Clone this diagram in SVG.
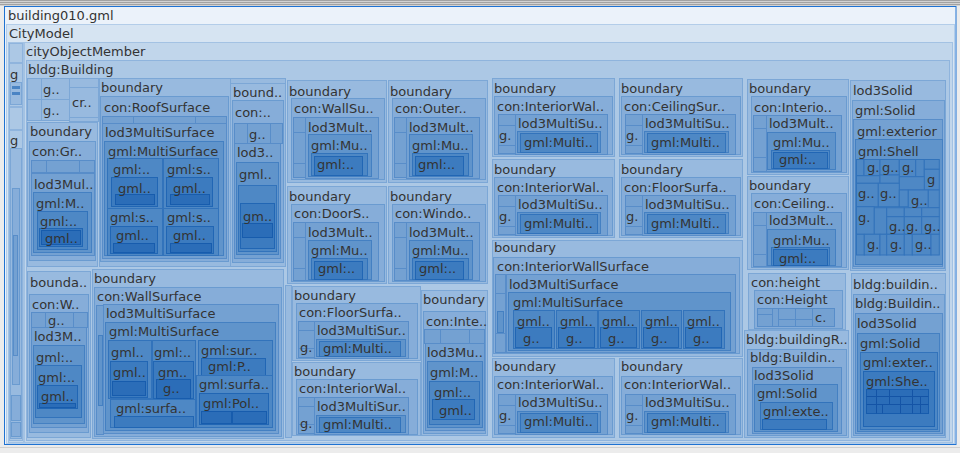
<svg xmlns="http://www.w3.org/2000/svg" width="960" height="453" viewBox="0 0 960 453">
<style>
rect{stroke-width:1}
.d0{fill:#ebf2fa}
.d1{fill:#d6e4f2;stroke:#b3cde9}
.d2{fill:#c1d6eb;stroke:#a3c2e3}
.d3{fill:#acc8e5;stroke:#8fb4dd}
.d4{fill:#98badf;stroke:#7ca7d6}
.d5{fill:#86add9;stroke:#6a9bd0}
.d6{fill:#74a1d2;stroke:#588dc9}
.d7{fill:#6094cb;stroke:#4480c2}
.d8{fill:#4e88c5;stroke:#3273bb}
.d9{fill:#3c7bbf;stroke:#2166b4}
.d10{fill:#2b6db8;stroke:#175cad}
.d11{fill:#1f62b0;stroke:#1454a6}
text{font-family:"DejaVu Sans","Liberation Sans",sans-serif;font-size:13px;fill:#333}
</style>
<rect x="0" y="0" width="960" height="453" fill="#ececec"/>
<rect x="0" y="0" width="960" height="6" fill="#d2d2d2"/>
<g stroke="#a2a2a2"><line x1="0" y1="0.5" x2="960" y2="0.5"/><line x1="0" y1="2.5" x2="960" y2="2.5"/><line x1="0" y1="4.5" x2="960" y2="4.5"/></g>
<line x1="0" y1="447.5" x2="960" y2="447.5" stroke="#d0d0d0"/>
<g id="building010">
<rect x="4.5" y="6.5" width="951.5" height="438" class="d0" stroke="#1f72d2" stroke-width="1.5"/>
<text x="8" y="20">building010.gml</text>
</g>
<g id="citymodel">
<rect class="d1" x="6.5" y="24.5" width="948" height="419"/>
<text x="9" y="38">CityModel</text>
</g>
<g id="leftcol">
<rect class="d2" x="8.5" y="42.5" width="15" height="400"/>
<rect class="d3" x="9.5" y="43.5" width="13" height="19"/>
<rect class="d3" x="9.5" y="63.5" width="13" height="43"/>
<rect class="d4" x="10.5" y="82.5" width="11" height="22"/>
<rect x="12" y="86" width="8" height="3" fill="#4a84c4"/>
<rect x="12" y="92" width="8" height="3" fill="#4a84c4"/>
<rect class="d3" x="9.5" y="107.5" width="13" height="22"/>
<rect class="d3" x="9.5" y="130.5" width="13" height="310"/>
<rect class="d4" x="10.5" y="148.5" width="11" height="290"/>
<rect class="d5" x="12.5" y="188.5" width="7" height="196"/>
<rect class="d6" x="13.5" y="235.5" width="4" height="120"/>
<rect class="d5" x="11.5" y="395.5" width="9" height="25"/>
<rect class="d5" x="11.5" y="422.5" width="9" height="14"/>
<text x="10" y="79">g</text>
<text x="10" y="145">g</text>
</g>
<g id="cityObjectMember">
<rect class="d2" x="24.5" y="42.5" width="928" height="400"/>
<text x="26" y="56">cityObjectMember</text>
</g>
<g id="bldgBuilding">
<rect class="d3" x="26.5" y="60.5" width="923" height="380"/>
<text x="28" y="74">bldg:Building</text>
</g>
<g id="attrs">
<rect class="d4" x="27.5" y="78.5" width="14" height="21"/>
<rect class="d4" x="41.5" y="78.5" width="28" height="21"/>
<rect class="d4" x="27.5" y="99.5" width="14" height="21"/>
<rect class="d4" x="41.5" y="99.5" width="28" height="21"/>
<rect class="d4" x="69.5" y="78.5" width="29" height="9"/>
<rect class="d4" x="69.5" y="87.5" width="29" height="30"/>
<rect class="d4" x="69.5" y="117.5" width="29" height="4"/>
<text x="43" y="94">g..</text>
<text x="43" y="115">g..</text>
<text x="72" y="107">cr..</text>
</g>
<g id="b-ground">
<rect class="d4" x="27.5" y="122.5" width="70" height="144"/>
<rect class="d5" x="29.5" y="141.5" width="66" height="119"/>
<rect class="d6" x="31.5" y="160.5" width="15" height="12"/>
<rect class="d6" x="46.5" y="160.5" width="33" height="12"/>
<rect class="d6" x="79.5" y="160.5" width="15" height="12"/>
<rect class="d6" x="31.5" y="173.5" width="63" height="82"/>
<rect class="d7" x="33.5" y="192.5" width="58" height="60"/>
<rect class="d8" x="37.5" y="211.5" width="50" height="38"/>
<rect class="d9" x="39.5" y="228.5" width="43" height="18"/>
<rect class="d10" x="41.5" y="230.5" width="39" height="14"/>
<text x="30" y="136">boundary</text>
<text x="32" y="156">con:Gr..</text>
<text x="34" y="189">lod3Mul..</text>
<text x="36" y="208">gml:M..</text>
<text x="40" y="226">gml:..</text>
<text x="45" y="243">gml..</text>
</g>
<g id="b-wall1">
<rect class="d4" x="27.5" y="271.5" width="63" height="166"/>
<rect class="d5" x="29.5" y="294.5" width="59" height="138"/>
<rect class="d6" x="31.5" y="312.5" width="14" height="15"/>
<rect class="d6" x="45.5" y="312.5" width="28" height="15"/>
<rect class="d6" x="73.5" y="312.5" width="14" height="15"/>
<rect class="d6" x="31.5" y="327.5" width="55" height="100"/>
<rect class="d7" x="33.5" y="345.5" width="51" height="78"/>
<rect class="d8" x="35.5" y="365.5" width="46" height="52"/>
<rect class="d9" x="37.5" y="385.5" width="40" height="23"/>
<rect class="d10" x="39.5" y="403.5" width="36" height="4"/>
<text x="30" y="287">bounda..</text>
<text x="32" y="309">con:W..</text>
<text x="48" y="325">g..</text>
<text x="34" y="341">lod3M..</text>
<text x="36" y="362">gml:..</text>
<text x="38" y="382">gml:..</text>
<text x="41" y="401">gml..</text>
</g>
<g id="b-wall2">
<rect class="d4" x="92.5" y="269.5" width="191" height="169"/>
<rect class="d5" x="94.5" y="287.5" width="187" height="149"/>
<rect class="d6" x="96.5" y="305.5" width="7" height="129"/>
<rect class="d7" x="98.5" y="335.5" width="4" height="70"/>
<rect class="d6" x="103.5" y="304.5" width="175" height="129"/>
<rect class="d7" x="105.5" y="322.5" width="170" height="108"/>
<rect class="d8" x="108.5" y="340.5" width="43" height="58"/>
<rect class="d9" x="110.5" y="361.5" width="37" height="36"/>
<rect class="d10" x="112.5" y="381.5" width="33" height="14"/>
<rect class="d8" x="152.5" y="340.5" width="43" height="59"/>
<rect class="d9" x="153.5" y="361.5" width="40" height="37"/>
<rect class="d10" x="156.5" y="379.5" width="34" height="19"/>
<rect class="d8" x="198.5" y="340.5" width="74" height="35"/>
<rect class="d9" x="201.5" y="358.5" width="64" height="17"/>
<rect class="d8" x="196.5" y="375.5" width="76" height="52"/>
<rect class="d9" x="199.5" y="393.5" width="69" height="31"/>
<rect class="d10" x="201.5" y="411.5" width="30" height="12"/>
<rect class="d10" x="232.5" y="411.5" width="34" height="12"/>
<rect class="d8" x="110.5" y="399.5" width="85" height="28"/>
<rect class="d9" x="114.5" y="416.5" width="79" height="11"/>
<text x="94" y="283">boundary</text>
<text x="97" y="301">con:WallSurface</text>
<text x="106" y="318">lod3MultiSurface</text>
<text x="109" y="336">gml:MultiSurface</text>
<text x="111" y="357">gml..</text>
<text x="113" y="377">gml..</text>
<text x="154" y="357">gml:..</text>
<text x="158" y="377">gm..</text>
<text x="163" y="393">g..</text>
<text x="201" y="355">gml:sur..</text>
<text x="208" y="371">gml:P..</text>
<text x="199" y="389">gml:surfa..</text>
<text x="203" y="408">gml:Pol..</text>
<text x="116" y="413">gml:surfa..</text>
</g>
<g id="b-roof">
<rect class="d4" x="99.5" y="78.5" width="131" height="188"/>
<rect class="d5" x="100.5" y="96.5" width="128" height="165"/>
<rect class="d6" x="102.5" y="116.5" width="31" height="7"/>
<rect class="d6" x="133.5" y="116.5" width="62" height="7"/>
<rect class="d6" x="195.5" y="116.5" width="31" height="7"/>
<rect class="d6" x="102.5" y="123.5" width="124" height="135"/>
<rect class="d7" x="104.5" y="141.5" width="119" height="114"/>
<rect class="d8" x="107.5" y="158.5" width="55" height="50"/>
<rect class="d9" x="111.5" y="177.5" width="46" height="29"/>
<rect class="d10" x="115.5" y="194.5" width="39" height="10"/>
<rect class="d8" x="163.5" y="158.5" width="55" height="50"/>
<rect class="d9" x="166.5" y="177.5" width="46" height="29"/>
<rect class="d10" x="170.5" y="194.5" width="39" height="10"/>
<rect class="d8" x="107.5" y="208.5" width="55" height="47"/>
<rect class="d9" x="110.5" y="226.5" width="47" height="27"/>
<rect class="d10" x="113.5" y="243.5" width="41" height="9"/>
<rect class="d8" x="163.5" y="208.5" width="55" height="47"/>
<rect class="d9" x="166.5" y="226.5" width="47" height="27"/>
<rect class="d10" x="170.5" y="243.5" width="41" height="9"/>
<text x="101" y="92">boundary</text>
<text x="104" y="112">con:RoofSurface</text>
<text x="105" y="137">lod3MultiSurface</text>
<text x="108" y="156">gml:MultiSurface</text>
<text x="113" y="174">gml:..</text>
<text x="118" y="193">gml..</text>
<text x="167" y="174">gml:s..</text>
<text x="173" y="193">gml..</text>
<text x="110" y="222">gml:s..</text>
<text x="116" y="240">gml..</text>
<text x="167" y="222">gml:s..</text>
<text x="173" y="240">gml..</text>
</g>
<g id="b-col3">
<rect class="d4" x="230.5" y="78.5" width="55" height="5"/>
<rect class="d4" x="230.5" y="83.5" width="55" height="183"/>
<rect class="d5" x="232.5" y="100.5" width="51" height="162"/>
<rect class="d6" x="234.5" y="123.5" width="13" height="20"/>
<rect class="d6" x="247.5" y="123.5" width="23" height="20"/>
<rect class="d6" x="270.5" y="123.5" width="12" height="20"/>
<rect class="d6" x="234.5" y="143.5" width="46" height="115"/>
<rect class="d7" x="236.5" y="162.5" width="42" height="92"/>
<rect class="d8" x="238.5" y="185.5" width="38" height="66"/>
<rect class="d9" x="240.5" y="203.5" width="34" height="45"/>
<rect class="d10" x="242.5" y="223.5" width="30" height="14"/>
<text x="233" y="97">bound..</text>
<text x="235" y="117">con:..</text>
<text x="249" y="139">g..</text>
<text x="237" y="157">lod3..</text>
<text x="239" y="179">gml..</text>
<text x="243" y="221">gm..</text>
</g>
<g id="b-wallsu">
<rect class="d4" x="287.5" y="80.5" width="99" height="102"/>
<rect class="d5" x="291.5" y="98.5" width="93" height="81"/>
<rect class="d6" x="293.5" y="117.5" width="12" height="15"/>
<rect class="d6" x="293.5" y="132.5" width="12" height="31"/>
<rect class="d6" x="293.5" y="163.5" width="12" height="14"/>
<rect class="d6" x="305.5" y="117.5" width="73" height="61"/>
<rect class="d7" x="308.5" y="134.5" width="63" height="42"/>
<rect class="d8" x="311.5" y="153.5" width="56" height="22"/>
<rect class="d9" x="314.5" y="156.5" width="48" height="19"/>
<text x="289" y="96">boundary</text>
<text x="294" y="113">con:WallSu..</text>
<text x="308" y="132">lod3Mult..</text>
<text x="311" y="150">gml:Mu..</text>
<text x="317" y="169">gml:..</text>
</g>
<g id="b-outer">
<rect class="d4" x="388.5" y="80.5" width="99" height="102"/>
<rect class="d5" x="392.5" y="98.5" width="93" height="81"/>
<rect class="d6" x="394.5" y="117.5" width="12" height="15"/>
<rect class="d6" x="394.5" y="132.5" width="12" height="31"/>
<rect class="d6" x="394.5" y="163.5" width="12" height="14"/>
<rect class="d6" x="406.5" y="117.5" width="73" height="61"/>
<rect class="d7" x="409.5" y="134.5" width="63" height="42"/>
<rect class="d8" x="412.5" y="153.5" width="56" height="22"/>
<rect class="d9" x="415.5" y="156.5" width="48" height="19"/>
<text x="390" y="96">boundary</text>
<text x="395" y="113">con:Outer..</text>
<text x="409" y="132">lod3Mult..</text>
<text x="412" y="150">gml:Mu..</text>
<text x="418" y="169">gml:..</text>
</g>
<g id="b-door">
<rect class="d4" x="287.5" y="186.5" width="99" height="97"/>
<rect class="d5" x="291.5" y="204.5" width="93" height="77"/>
<rect class="d6" x="293.5" y="222.5" width="12" height="15"/>
<rect class="d6" x="293.5" y="237.5" width="12" height="31"/>
<rect class="d6" x="293.5" y="268.5" width="12" height="12"/>
<rect class="d6" x="305.5" y="222.5" width="73" height="58"/>
<rect class="d7" x="308.5" y="240.5" width="63" height="39"/>
<rect class="d8" x="311.5" y="258.5" width="56" height="21"/>
<rect class="d9" x="314.5" y="261.5" width="48" height="18"/>
<text x="289" y="201">boundary</text>
<text x="294" y="218">con:DoorS..</text>
<text x="308" y="237">lod3Mult..</text>
<text x="311" y="255">gml:Mu..</text>
<text x="318" y="273">gml:..</text>
</g>
<g id="b-window">
<rect class="d4" x="388.5" y="186.5" width="99" height="97"/>
<rect class="d5" x="392.5" y="204.5" width="93" height="77"/>
<rect class="d6" x="394.5" y="222.5" width="12" height="15"/>
<rect class="d6" x="394.5" y="237.5" width="12" height="31"/>
<rect class="d6" x="394.5" y="268.5" width="12" height="12"/>
<rect class="d6" x="406.5" y="222.5" width="73" height="58"/>
<rect class="d7" x="409.5" y="240.5" width="63" height="39"/>
<rect class="d8" x="412.5" y="258.5" width="56" height="21"/>
<rect class="d9" x="415.5" y="261.5" width="48" height="18"/>
<text x="390" y="201">boundary</text>
<text x="395" y="218">con:Windo..</text>
<text x="409" y="237">lod3Mult..</text>
<text x="412" y="255">gml:Mu..</text>
<text x="419" y="273">gml:..</text>
</g>
<g id="b-thin">
<rect class="d4" x="285.5" y="285.5" width="6" height="152"/>
</g>
<g id="b-floor1">
<rect class="d4" x="292.5" y="286.5" width="128" height="74"/>
<rect class="d5" x="296.5" y="303.5" width="121" height="55"/>
<rect class="d6" x="298.5" y="321.5" width="16" height="9"/>
<rect class="d6" x="298.5" y="330.5" width="16" height="18"/>
<rect class="d6" x="298.5" y="348.5" width="16" height="9"/>
<rect class="d6" x="314.5" y="321.5" width="94" height="37"/>
<rect class="d7" x="316.5" y="339.5" width="89" height="17"/>
<rect class="d8" x="319.5" y="341.5" width="81" height="15"/>
<text x="294" y="300">boundary</text>
<text x="299" y="317">con:FloorSurfa..</text>
<text x="300" y="352">g.</text>
<text x="317" y="335">lod3MultiSur..</text>
<text x="323" y="353">gml:Multi..</text>
</g>
<g id="b-intwall1">
<rect class="d4" x="292.5" y="362.5" width="128" height="73"/>
<rect class="d5" x="296.5" y="379.5" width="121" height="55"/>
<rect class="d6" x="298.5" y="397.5" width="16" height="9"/>
<rect class="d6" x="298.5" y="406.5" width="16" height="18"/>
<rect class="d6" x="298.5" y="424.5" width="16" height="9"/>
<rect class="d6" x="314.5" y="397.5" width="94" height="37"/>
<rect class="d7" x="316.5" y="415.5" width="89" height="17"/>
<rect class="d8" x="319.5" y="417.5" width="81" height="15"/>
<text x="294" y="376">boundary</text>
<text x="299" y="393">con:InteriorWal..</text>
<text x="300" y="428">g.</text>
<text x="317" y="411">lod3MultiSur..</text>
<text x="323" y="429">gml:Multi..</text>
</g>
<g id="b-inte">
<rect class="d4" x="421.5" y="290.5" width="66" height="145"/>
<rect class="d5" x="423.5" y="311.5" width="62" height="122"/>
<rect class="d6" x="424.5" y="329.5" width="16" height="14"/>
<rect class="d6" x="440.5" y="329.5" width="29" height="14"/>
<rect class="d6" x="469.5" y="329.5" width="15" height="14"/>
<rect class="d6" x="425.5" y="343.5" width="59" height="87"/>
<rect class="d7" x="427.5" y="361.5" width="55" height="66"/>
<rect class="d8" x="429.5" y="381.5" width="50" height="43"/>
<rect class="d9" x="432.5" y="399.5" width="42" height="20"/>
<text x="423" y="304">boundary</text>
<text x="426" y="326">con:Inte..</text>
<text x="427" y="357">lod3Mu..</text>
<text x="430" y="377">gml:M..</text>
<text x="434" y="397">gml:..</text>
<text x="439" y="415">gml..</text>
</g>
<g id="b-iw-a">
<rect class="d4" x="492.5" y="78.5" width="122" height="78"/>
<rect class="d5" x="494.5" y="96.5" width="118" height="58"/>
<rect class="d6" x="498.5" y="114.5" width="17" height="11"/>
<rect class="d6" x="498.5" y="125.5" width="17" height="20"/>
<rect class="d6" x="498.5" y="145.5" width="17" height="8"/>
<rect class="d6" x="515.5" y="114.5" width="92" height="40"/>
<rect class="d7" x="517.5" y="131.5" width="83" height="21"/>
<rect class="d8" x="520.5" y="133.5" width="77" height="19"/>
<text x="494" y="93">boundary</text>
<text x="497" y="111">con:InteriorWal..</text>
<text x="499" y="140">g.</text>
<text x="518" y="128">lod3MultiSu..</text>
<text x="524" y="147">gml:Multi..</text>
</g>
<g id="b-ceil-a">
<rect class="d4" x="619.5" y="78.5" width="123" height="78"/>
<rect class="d5" x="621.5" y="96.5" width="119" height="58"/>
<rect class="d6" x="625.5" y="114.5" width="17" height="11"/>
<rect class="d6" x="625.5" y="125.5" width="17" height="20"/>
<rect class="d6" x="625.5" y="145.5" width="17" height="8"/>
<rect class="d6" x="642.5" y="114.5" width="93" height="40"/>
<rect class="d7" x="644.5" y="131.5" width="84" height="21"/>
<rect class="d8" x="647.5" y="133.5" width="78" height="19"/>
<text x="621" y="93">boundary</text>
<text x="624" y="111">con:CeilingSur..</text>
<text x="626" y="140">g.</text>
<text x="645" y="128">lod3MultiSu..</text>
<text x="651" y="147">gml:Multi..</text>
</g>
<g id="b-iw-b">
<rect class="d4" x="492.5" y="159.5" width="122" height="78"/>
<rect class="d5" x="494.5" y="177.5" width="118" height="58"/>
<rect class="d6" x="498.5" y="195.5" width="17" height="11"/>
<rect class="d6" x="498.5" y="206.5" width="17" height="20"/>
<rect class="d6" x="498.5" y="226.5" width="17" height="8"/>
<rect class="d6" x="515.5" y="195.5" width="92" height="40"/>
<rect class="d7" x="517.5" y="212.5" width="83" height="21"/>
<rect class="d8" x="520.5" y="214.5" width="77" height="19"/>
<text x="494" y="174">boundary</text>
<text x="497" y="192">con:InteriorWal..</text>
<text x="499" y="221">g.</text>
<text x="518" y="209">lod3MultiSu..</text>
<text x="524" y="228">gml:Multi..</text>
</g>
<g id="b-floor-a">
<rect class="d4" x="619.5" y="159.5" width="123" height="78"/>
<rect class="d5" x="621.5" y="177.5" width="119" height="58"/>
<rect class="d6" x="625.5" y="195.5" width="17" height="11"/>
<rect class="d6" x="625.5" y="206.5" width="17" height="20"/>
<rect class="d6" x="625.5" y="226.5" width="17" height="8"/>
<rect class="d6" x="642.5" y="195.5" width="93" height="40"/>
<rect class="d7" x="644.5" y="212.5" width="84" height="21"/>
<rect class="d8" x="647.5" y="214.5" width="78" height="19"/>
<text x="621" y="174">boundary</text>
<text x="624" y="192">con:FloorSurfa..</text>
<text x="626" y="221">g.</text>
<text x="645" y="209">lod3MultiSu..</text>
<text x="651" y="228">gml:Multi..</text>
</g>
<g id="b-iw-big">
<rect class="d4" x="492.5" y="240.5" width="250" height="116"/>
<rect class="d5" x="493.5" y="257.5" width="246" height="96"/>
<rect class="d6" x="495.5" y="274.5" width="10" height="19"/>
<rect class="d6" x="495.5" y="293.5" width="10" height="40"/>
<rect class="d6" x="495.5" y="333.5" width="10" height="19"/>
<rect class="d7" x="497.5" y="311.5" width="6" height="21"/>
<rect class="d6" x="506.5" y="274.5" width="229" height="78"/>
<rect class="d7" x="508.5" y="292.5" width="222" height="58"/>
<rect class="d8" x="513.5" y="310.5" width="41" height="38"/>
<rect class="d9" x="515.5" y="327.5" width="36" height="20"/>
<rect class="d8" x="556.5" y="310.5" width="41" height="38"/>
<rect class="d9" x="558.5" y="327.5" width="36" height="20"/>
<rect class="d8" x="598.5" y="310.5" width="41" height="38"/>
<rect class="d9" x="600.5" y="327.5" width="36" height="20"/>
<rect class="d8" x="641.5" y="310.5" width="40" height="38"/>
<rect class="d9" x="643.5" y="327.5" width="35" height="20"/>
<rect class="d8" x="683.5" y="310.5" width="41" height="38"/>
<rect class="d9" x="685.5" y="327.5" width="36" height="20"/>
<text x="494" y="252">boundary</text>
<text x="497" y="271">con:InteriorWallSurface</text>
<text x="509" y="289">lod3MultiSurface</text>
<text x="513" y="307">gml:MultiSurface</text>
<text x="517" y="326">gml..</text>
<text x="560" y="326">gml..</text>
<text x="602" y="326">gml..</text>
<text x="645" y="326">gml..</text>
<text x="687" y="326">gml..</text>
<text x="523" y="343">g..</text>
<text x="566" y="343">g..</text>
<text x="608" y="343">g..</text>
<text x="651" y="343">g..</text>
<text x="693" y="343">g..</text>
</g>
<g id="b-iw-c">
<rect class="d4" x="492.5" y="358.5" width="122" height="79"/>
<rect class="d5" x="494.5" y="376.5" width="118" height="58"/>
<rect class="d6" x="498.5" y="394.5" width="17" height="11"/>
<rect class="d6" x="498.5" y="405.5" width="17" height="20"/>
<rect class="d6" x="498.5" y="425.5" width="17" height="8"/>
<rect class="d6" x="515.5" y="394.5" width="92" height="40"/>
<rect class="d7" x="517.5" y="411.5" width="83" height="21"/>
<rect class="d8" x="520.5" y="413.5" width="77" height="19"/>
<text x="494" y="371">boundary</text>
<text x="497" y="389">con:InteriorWal..</text>
<text x="499" y="420">g.</text>
<text x="518" y="407">lod3MultiSu..</text>
<text x="524" y="426">gml:Multi..</text>
</g>
<g id="b-iw-d">
<rect class="d4" x="619.5" y="358.5" width="123" height="79"/>
<rect class="d5" x="621.5" y="376.5" width="119" height="58"/>
<rect class="d6" x="625.5" y="394.5" width="17" height="11"/>
<rect class="d6" x="625.5" y="405.5" width="17" height="20"/>
<rect class="d6" x="625.5" y="425.5" width="17" height="8"/>
<rect class="d6" x="642.5" y="394.5" width="93" height="40"/>
<rect class="d7" x="644.5" y="411.5" width="84" height="21"/>
<rect class="d8" x="647.5" y="413.5" width="78" height="19"/>
<text x="621" y="371">boundary</text>
<text x="624" y="389">con:InteriorWal..</text>
<text x="626" y="420">g.</text>
<text x="645" y="407">lod3MultiSu..</text>
<text x="651" y="426">gml:Multi..</text>
</g>
<g id="b-interio">
<rect class="d4" x="747.5" y="79.5" width="101" height="95"/>
<rect class="d5" x="751.5" y="96.5" width="95" height="76"/>
<rect class="d6" x="753.5" y="115.5" width="13" height="13"/>
<rect class="d6" x="753.5" y="128.5" width="13" height="29"/>
<rect class="d6" x="753.5" y="157.5" width="13" height="14"/>
<rect class="d6" x="766.5" y="115.5" width="75" height="56"/>
<rect class="d7" x="767.5" y="132.5" width="68" height="37"/>
<rect class="d8" x="771.5" y="150.5" width="58" height="18"/>
<rect class="d9" x="773.5" y="152.5" width="54" height="16"/>
<text x="749" y="93">boundary</text>
<text x="754" y="112">con:Interio..</text>
<text x="769" y="128">lod3Mult..</text>
<text x="773" y="147">gml:Mu..</text>
<text x="779" y="164">gml:..</text>
</g>
<g id="b-ceiling">
<rect class="d4" x="747.5" y="176.5" width="101" height="93"/>
<rect class="d5" x="751.5" y="193.5" width="95" height="74"/>
<rect class="d6" x="753.5" y="212.5" width="13" height="13"/>
<rect class="d6" x="753.5" y="225.5" width="13" height="29"/>
<rect class="d6" x="753.5" y="254.5" width="13" height="12"/>
<rect class="d6" x="766.5" y="212.5" width="75" height="54"/>
<rect class="d7" x="767.5" y="229.5" width="68" height="36"/>
<rect class="d8" x="771.5" y="247.5" width="58" height="18"/>
<rect class="d9" x="773.5" y="249.5" width="54" height="16"/>
<text x="749" y="190">boundary</text>
<text x="754" y="208">con:Ceiling..</text>
<text x="769" y="225">lod3Mult..</text>
<text x="773" y="245">gml:Mu..</text>
<text x="779" y="263">gml:..</text>
</g>
<g id="lod3solid-a">
<rect class="d4" x="850.5" y="80.5" width="95" height="190"/>
<rect class="d5" x="852.5" y="100.5" width="92" height="168"/>
<rect class="d6" x="853.5" y="119.5" width="89" height="147"/>
<rect class="d7" x="855.5" y="139.5" width="87" height="125"/>
<g class="d8">
<rect x="856.5" y="159.5" width="7.5" height="16"/>
<rect x="864" y="159.5" width="16" height="16"/>
<rect x="880" y="159.5" width="19.3" height="15.5"/>
<rect x="899.3" y="159.5" width="16.4" height="17.2"/>
<rect x="915.7" y="159.5" width="8.6" height="17.2"/>
<rect x="924.3" y="159.5" width="15" height="9.8"/>
<rect x="924.3" y="169.3" width="15" height="20.7"/>
<rect x="856.5" y="175.7" width="23.5" height="7.6"/>
<rect x="880" y="175" width="19.3" height="8.3"/>
<rect x="899.3" y="176.7" width="25" height="13.3"/>
<rect x="856.5" y="183.3" width="21.8" height="23.4"/>
<rect x="878.3" y="183.3" width="21" height="23.4"/>
<rect x="899.3" y="190" width="9" height="16.7"/>
<rect x="908.3" y="190" width="20" height="17.7"/>
<rect x="928.3" y="190" width="11" height="17.7"/>
<rect x="856.5" y="206.7" width="17.8" height="27.6"/>
<rect x="874.3" y="207.7" width="12.4" height="26.6"/>
<rect x="886.7" y="207.7" width="17.6" height="9"/>
<rect x="904.3" y="207.7" width="17.4" height="9"/>
<rect x="921.7" y="207.7" width="17.6" height="9"/>
<rect x="886.7" y="216.7" width="17.6" height="17.6"/>
<rect x="904.3" y="216.7" width="17.4" height="17.6"/>
<rect x="921.7" y="216.7" width="17.6" height="17.6"/>
<rect x="856.5" y="234.3" width="7.8" height="20.7"/>
<rect x="864.3" y="234.3" width="15.7" height="20.7"/>
<rect x="880" y="234.3" width="6.7" height="20.7"/>
<rect x="886.7" y="234.3" width="17.6" height="20.7"/>
<rect x="904.3" y="234.3" width="8" height="20.7"/>
<rect x="912.3" y="234.3" width="18.7" height="20.7"/>
<rect x="931" y="234.3" width="8.3" height="20.7"/>
</g>
<text x="853" y="95">lod3Solid</text>
<text x="855" y="115">gml:Solid</text>
<text x="857" y="136">gml:exterior</text>
<text x="858" y="156">gml:Shell</text>
<text x="867" y="172">g.</text>
<text x="882" y="172">g..</text>
<text x="902" y="172">g.</text>
<text x="927" y="184">g</text>
<text x="858" y="198">g..</text>
<text x="880" y="198">g..</text>
<text x="911" y="205">g..</text>
<text x="858" y="222">g.</text>
<text x="889" y="231">g..</text>
<text x="906" y="231">g.</text>
<text x="924" y="231">g..</text>
<text x="867" y="249">g.</text>
<text x="890" y="249">g.</text>
<text x="915" y="249">g..</text>
</g>
<g id="con-height">
<rect class="d4" x="748.5" y="273.5" width="97" height="56"/>
<rect class="d5" x="754.5" y="290.5" width="88" height="38"/>
<g class="d6">
<rect x="757.5" y="308.5" width="15" height="6"/>
<rect x="757.5" y="314.5" width="15" height="12"/>
<rect x="772.5" y="308.5" width="6" height="18"/>
<rect x="778.5" y="308.5" width="17" height="11"/>
<rect x="795.5" y="308.5" width="17" height="11"/>
<rect x="778.5" y="319.5" width="17" height="7"/>
<rect x="795.5" y="319.5" width="17" height="7"/>
<rect x="812.5" y="308.5" width="22" height="18"/>
</g>
<text x="751" y="287">con:height</text>
<text x="757" y="304">con:Height</text>
<text x="815" y="322">c.</text>
</g>
<g id="buildingR">
<rect class="d4" x="744.5" y="330.5" width="104" height="107"/>
<rect class="d5" x="747.5" y="349.5" width="99" height="86"/>
<rect class="d6" x="752.5" y="367.5" width="89" height="66"/>
<rect class="d7" x="754.5" y="384.5" width="83" height="47"/>
<rect class="d8" x="760.5" y="402.5" width="72" height="27"/>
<rect class="d9" x="762.5" y="419.5" width="64" height="10"/>
<text x="746" y="344">bldg:buildingR..</text>
<text x="750" y="362">bldg:Buildin..</text>
<text x="754" y="380">lod3Solid</text>
<text x="757" y="398">gml:Solid</text>
<text x="763" y="416">gml:exte..</text>
</g>
<g id="buildin2">
<rect class="d4" x="851.5" y="273.5" width="94" height="164"/>
<rect class="d5" x="853.5" y="294.5" width="91" height="141"/>
<rect class="d6" x="855.5" y="313.5" width="87" height="120"/>
<rect class="d7" x="857.5" y="333.5" width="82" height="98"/>
<rect class="d8" x="860.5" y="352.5" width="77" height="77"/>
<rect class="d9" x="863.5" y="371.5" width="71" height="55"/>
<rect class="d10" x="866.5" y="389.5" width="62" height="24"/>
<g stroke="#1454a6" fill="none">
<path d="M866.5 396.5H928.5M866.5 404.5H928.5M876.5 389.5V413.5M889.5 389.5V404.5M900.5 396.5V413.5M912.5 389.5V413.5M920.5 396.5V413.5M882.5 404.5V413.5"/>
</g>
<text x="853" y="289">bldg:buildin..</text>
<text x="855" y="308">bldg:Buildin..</text>
<text x="857" y="328">lod3Solid</text>
<text x="860" y="348">gml:Solid</text>
<text x="863" y="367">gml:exter..</text>
<text x="866" y="386">gml:She..</text>
</g>
</svg>
